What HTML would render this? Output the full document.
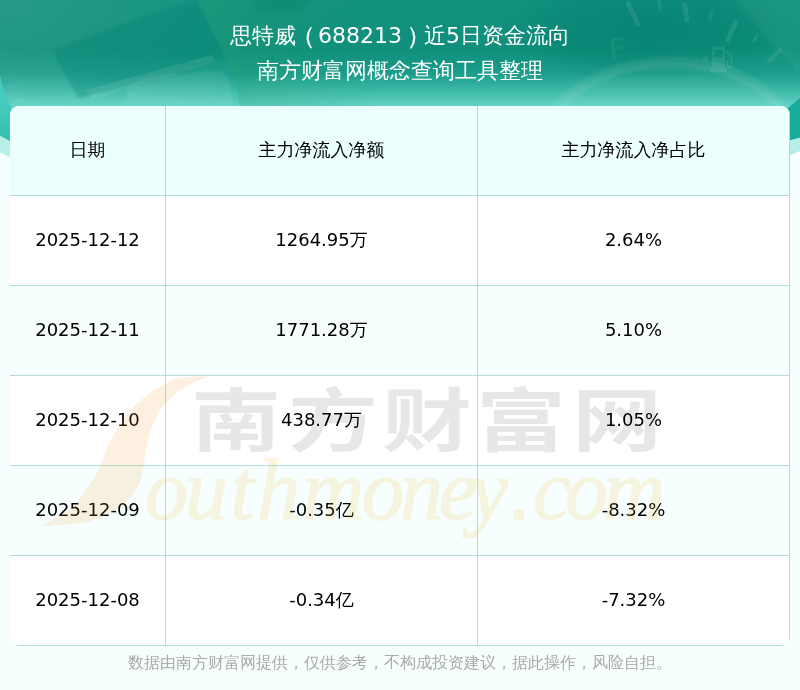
<!DOCTYPE html>
<html lang="zh-CN">
<head>
<meta charset="utf-8">
<title>思特威（688213）近5日资金流向</title>
<style>
html,body{margin:0;padding:0;}
body{width:800px;height:690px;position:relative;overflow:hidden;background:#f6fffd;
  font-family:"DejaVu Sans","Liberation Sans","WenQuanYi Zen Hei Sharp","WenQuanYi Zen Hei","Noto Sans CJK SC",sans-serif;color:#000;}
.hero{position:absolute;left:0;top:0;width:800px;height:230px;display:block;}
.title{will-change:transform;position:absolute;left:0;top:19px;width:800px;text-align:center;color:#fff;font-size:22px;line-height:34px;}
.title .l2{margin-top:1px;}
.title .pl,.title .pr{position:relative;display:inline-block;transform:scale(1.15,1.1);-webkit-text-stroke:0.15px #fff;}
.title .pl{left:-4px;}.title .pr{left:6.5px;}
.card{position:absolute;left:10px;top:106px;width:780px;height:540px;border-radius:9px;overflow:hidden;background:#fff;}
table{will-change:transform;border-collapse:separate;border-spacing:0;width:780px;table-layout:fixed;}
td,th{height:87px;padding:0 0 2px 0;border-right:1px solid #b1deda;border-bottom:1px solid #b1deda;text-align:center;font-size:18px;font-weight:normal;vertical-align:middle;}
th{background:#ebfffd;}
tr.alt td{background:#f6fffe;}
.c1{width:155px;}.c2{width:311px;}.c3{width:311px;}
.foot{position:absolute;left:0;top:650px;width:800px;text-align:center;font-size:16px;line-height:26px;color:#aaa;will-change:transform;}
.wm{position:absolute;left:0;top:0;width:800px;height:690px;pointer-events:none;}
</style>
</head>
<body>
<svg class="hero" viewBox="0 0 800 230">
  <defs>
    <linearGradient id="g1" x1="0" y1="0" x2="0" y2="230" gradientUnits="userSpaceOnUse">
      <stop offset="0" stop-color="#12917f"/>
      <stop offset="0.22" stop-color="#0f8f7c"/>
      <stop offset="0.32" stop-color="#1c9d8b"/>
      <stop offset="0.40" stop-color="#40bbaa"/>
      <stop offset="0.46" stop-color="#62d2c5"/>
      <stop offset="0.6" stop-color="#3ccab8"/>
      <stop offset="1" stop-color="#3ccab8"/>
    </linearGradient>
    <radialGradient id="g2" cx="0" cy="0" r="260" gradientUnits="userSpaceOnUse">
      <stop offset="0" stop-color="#fff" stop-opacity="0.09"/>
      <stop offset="1" stop-color="#fff" stop-opacity="0"/>
    </radialGradient>
    <filter id="bl" x="-10%" y="-10%" width="120%" height="120%"><feGaussianBlur stdDeviation="1.5"/></filter>
    <linearGradient id="g3" x1="0" y1="80" x2="0" y2="136" gradientUnits="userSpaceOnUse"><stop offset="0" stop-color="#42c9bb"/><stop offset="0.4" stop-color="#45ccbe"/><stop offset="1" stop-color="#37c1b0"/></linearGradient>
    <filter id="bl2" x="-10%" y="-10%" width="120%" height="120%"><feGaussianBlur stdDeviation="0.7"/></filter>
    <linearGradient id="g4" x1="200" y1="0" x2="380" y2="0" gradientUnits="userSpaceOnUse"><stop offset="0" stop-color="#28a070" stop-opacity="0.3"/><stop offset="0.6" stop-color="#28a070" stop-opacity="0.12"/><stop offset="1" stop-color="#28a070" stop-opacity="0"/></linearGradient>
    <radialGradient id="g5" cx="0.5" cy="0.5" r="0.5"><stop offset="0" stop-color="#007a6b" stop-opacity="0.55"/><stop offset="0.6" stop-color="#007a6b" stop-opacity="0.3"/><stop offset="1" stop-color="#007a6b" stop-opacity="0"/></radialGradient>
    <clipPath id="hc"><path d="M0,0H800V137.4L790,140C600,200 200,200 10,141L0,135.6Z"/></clipPath>
  </defs>
  <path d="M0,0H800V151L790,155.6C600,215 200,215 10,157L0,152.4Z" fill="#b6efe5"/>
  <path d="M0,0H800V137.4L790,140C600,200 200,200 10,141L0,135.6Z" fill="url(#g1)"/>
  <g clip-path="url(#hc)">
    <rect x="0" y="0" width="300" height="230" fill="url(#g2)"/>
    <!-- keyboard-like dark slab -->
    <path d="M52,50L150,14L196,0L228,58L150,82L78,98Z" fill="#067f70" fill-opacity="0.33" filter="url(#bl)"/>
    <path d="M86,90L212,55L216,62L92,99Z" fill="#fff" fill-opacity="0.09" filter="url(#bl2)"/>
    <path d="M128,86Q150,72 176,74L222,70Q232,80 232,106H124Z" fill="#fff" fill-opacity="0.07" filter="url(#bl)"/>
    <g stroke="#fff" stroke-opacity="0.06" stroke-width="2"><path d="M8,88l10,-3"/><path d="M10,95l10,-3"/><path d="M12,102l10,-3"/><path d="M14,109l10,-3"/></g>
    <path d="M198,0H380V106H240Q236,80 226,62Z" fill="url(#g4)"/>
    <path d="M250,0H312L300,9Q280,14 258,10Z" fill="#06805f" fill-opacity="0.3" filter="url(#bl)"/>
    <ellipse cx="650" cy="28" rx="150" ry="52" fill="url(#g5)"/>
    <!-- gauge -->
    <ellipse cx="670" cy="152" rx="128" ry="90" fill="#fff" fill-opacity="0.04" stroke="#fff" stroke-opacity="0.08" stroke-width="11" filter="url(#bl)"/>
    <g stroke="#fff" stroke-opacity="0.085" stroke-width="5" stroke-linecap="round" filter="url(#bl2)">
      <path d="M628,3L638,24"/><path d="M684.5,5L687,20"/><path d="M736,22L727.5,40"/><path d="M780,50.5L769.5,60.5"/>
    </g>
    <g stroke="#fff" stroke-opacity="0.07" stroke-width="3" stroke-linecap="round" filter="url(#bl2)">
      <path d="M658.7,1L660.7,10"/><path d="M712,11.5L710,19"/><path d="M757.5,34.5L754,41"/>
    </g>
    <text x="609" y="58.5" transform="rotate(-4 616 48)" font-family="'DejaVu Sans','Liberation Sans',sans-serif" font-size="28" fill="#fff" fill-opacity="0.085">F</text>
    <g fill="#fff" fill-opacity="0.085" filter="url(#bl2)">
      <path d="M712,48.5q0,-2 2,-2h9q2,0 2,2v20h2v3.5h-17v-3.5h2zM714.5,50v7h8v-7z" fill-rule="evenodd"/>
      <path d="M701.5,58.5l6,-3.5v7z"/>
      <path d="M726,51l4,3.5q1.5,1.5 1.5,4v6.5q0,2.5 -2,2.5t-2,-2.5v-3h-1.5" fill="none" stroke="#fff" stroke-opacity="0.1" stroke-width="1.8"/>
    </g>
    <path d="M735,0H800V75Z" fill="#fff" fill-opacity="0.045" filter="url(#bl)"/>
    <path d="M786,109.6L800,98V142H786Z" fill="#18ab9a"/>
    <path d="M0,74Q2.5,92 11,107L11,143L0,143Z" fill="url(#g3)"/>
  </g>
</svg>
<div class="title"><div>思特威<span class="pl">（</span>688213<span class="pr">）</span>近5日资金流向</div><div class="l2">南方财富网概念查询工具整理</div></div>
<div class="card">
<table>
<tr><th class="c1">日期</th><th class="c2">主力净流入净额</th><th class="c3">主力净流入净占比</th></tr>
<tr><td>2025-12-12</td><td>1264.95万</td><td>2.64%</td></tr>
<tr class="alt"><td>2025-12-11</td><td>1771.28万</td><td>5.10%</td></tr>
<tr><td>2025-12-10</td><td>438.77万</td><td>1.05%</td></tr>
<tr class="alt"><td>2025-12-09</td><td>-0.35亿</td><td>-8.32%</td></tr>
<tr><td>2025-12-08</td><td>-0.34亿</td><td>-7.32%</td></tr>
</table>
</div>
<svg class="wm" viewBox="0 0 800 690">
  <path d="M210.0,376.5C206.7,376.6 196.3,376.3 190.0,377.0C183.7,377.7 179.3,377.3 172.0,380.5C164.7,383.7 153.8,389.9 146.0,396.0C138.2,402.1 131.1,409.2 125.0,417.0C118.9,424.8 113.8,434.3 109.5,443.0C105.2,451.7 102.9,461.2 99.0,469.0C95.1,476.8 90.8,483.3 86.0,490.0C81.2,496.7 77.5,503.0 70.0,509.0C62.5,515.0 45.8,523.2 41.0,526.0C47.5,525.5 69.5,524.7 80.0,523.0C90.5,521.3 96.7,519.2 104.0,516.0C111.3,512.8 118.5,508.7 124.0,504.0C129.5,499.3 133.8,493.7 137.0,488.0C140.2,482.3 141.6,476.0 143.0,470.0C144.4,464.0 144.3,458.2 145.5,452.0C146.7,445.8 147.8,439.7 150.0,433.0C152.2,426.3 154.8,418.5 159.0,412.0C163.2,405.5 169.2,398.9 175.0,394.0C180.8,389.1 188.2,385.4 194.0,382.5C199.8,379.6 207.3,377.5 210.0,376.5Z" fill="#ee8c14" fill-opacity="0.13"/>
  <text transform="translate(0,446) scale(1.0976,0.84)" x="174.02 262.40 348.04 433.69 521.16" y="0" font-family="'Liberation Sans','Noto Sans CJK SC','WenQuanYi Zen Hei',sans-serif" font-weight="700" font-size="82" fill="#000" fill-opacity="0.095">南方财富网</text>
  <text x="145 185 230 257 302 361.5 400 439 470 510 533 565 603" y="519" font-family="'Liberation Serif','DejaVu Serif',serif" font-style="italic" font-size="86" fill="#f2ae28" stroke="#f2ae28" stroke-width="1.2" opacity="0.14">outhmoney.com</text>
</svg>
<div class="foot">数据由南方财富网提供，仅供参考，不构成投资建议，据此操作，风险自担。</div>
</body>
</html>
